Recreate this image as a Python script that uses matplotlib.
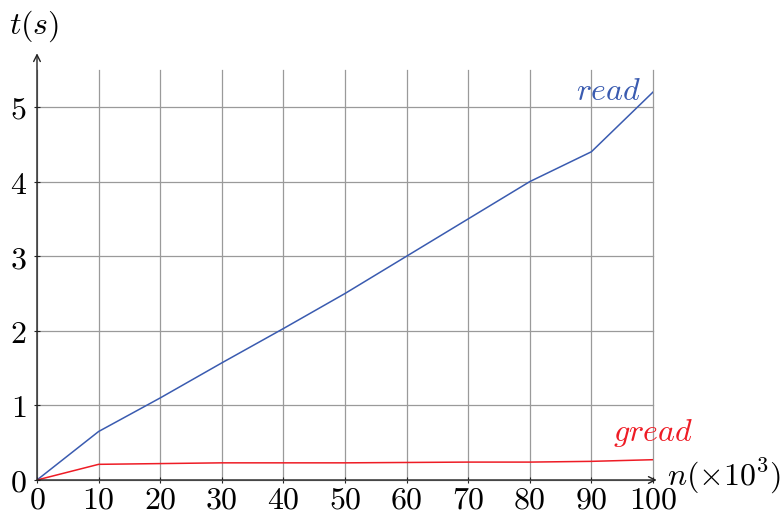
import matplotlib
matplotlib.use("Agg")
import matplotlib.pyplot as plt
from matplotlib.ticker import FuncFormatter

plt.rcParams["mathtext.fontset"] = "cm"
plt.rcParams["font.family"] = ["DejaVu Serif"]

# Data: running time (s) vs. number of lines n (x 10^3)
n_values = [0, 10, 20, 30, 40, 50, 60, 70, 80, 90, 100]
read_times = [0, 0.65, 1.1, 1.57, 2.03, 2.5, 3.0, 3.5, 4.0, 4.4, 5.2]
gread_times = [0, 0.21, 0.22, 0.23, 0.23, 0.23, 0.235, 0.24, 0.24, 0.25, 0.272]
x_ticks = [0, 10, 20, 30, 40, 50, 60, 70, 80, 90, 100]
y_ticks = [0, 1, 2, 3, 4, 5]

blue = "#3a5bb0"
red = "#ee1c25"
FS = 23

fig = plt.figure(figsize=(7.83, 5.21), dpi=100)
ax = fig.add_axes([37 / 783, 41 / 521, 616 / 783, 410.3 / 521])

ax.plot(n_values, read_times, color=blue, lw=1.1)
ax.plot(n_values, gread_times, color=red, lw=1.1)

ax.set_xlim(0, 100)
ax.set_ylim(0, 5.5)
ax.set_xticks(x_ticks)
ax.set_yticks(y_ticks)
fmt = FuncFormatter(lambda v, p: f"${v:g}$")
ax.xaxis.set_major_formatter(fmt)
ax.yaxis.set_major_formatter(fmt)
ax.tick_params(axis="both", labelsize=FS, direction="inout", length=5,
               width=0.8, color="#222222")
ax.tick_params(axis="x", pad=1)
ax.tick_params(axis="y", pad=5)

ax.grid(True, color="#9a9a9a", lw=0.9)
for gl in ax.get_xgridlines() + ax.get_ygridlines():
    gl.set_clip_on(False)
ax.set_axisbelow(True)
for s in ax.spines.values():
    s.set_visible(False)

# Axes with arrow heads
ax.annotate("", xy=(100.6, 0), xytext=(0, 0), xycoords="data",
            arrowprops=dict(arrowstyle="->", color="#222222", lw=1.0,
                            shrinkA=0, shrinkB=0, mutation_scale=12),
            annotation_clip=False)
ax.annotate("", xy=(0, 5.72), xytext=(0, 0), xycoords="data",
            arrowprops=dict(arrowstyle="->", color="#222222", lw=1.0,
                            shrinkA=0, shrinkB=0, mutation_scale=12),
            annotation_clip=False)

ax.text(-4.5, 6.08, r"$t(s)$", fontsize=FS, ha="left", va="center",
        clip_on=False)
ax.text(102.3, 0.05, r"$n(\times10^3)$", fontsize=FS, ha="left",
        va="center", clip_on=False)

ax.text(98.0, 5.0, r"$read$", fontsize=FS, color=blue, ha="right",
        va="bottom", clip_on=False)
ax.text(106.5, 0.42, r"$gread$", fontsize=FS, color=red, ha="right",
        va="bottom", clip_on=False)

fig.savefig("out.png", dpi=100)
